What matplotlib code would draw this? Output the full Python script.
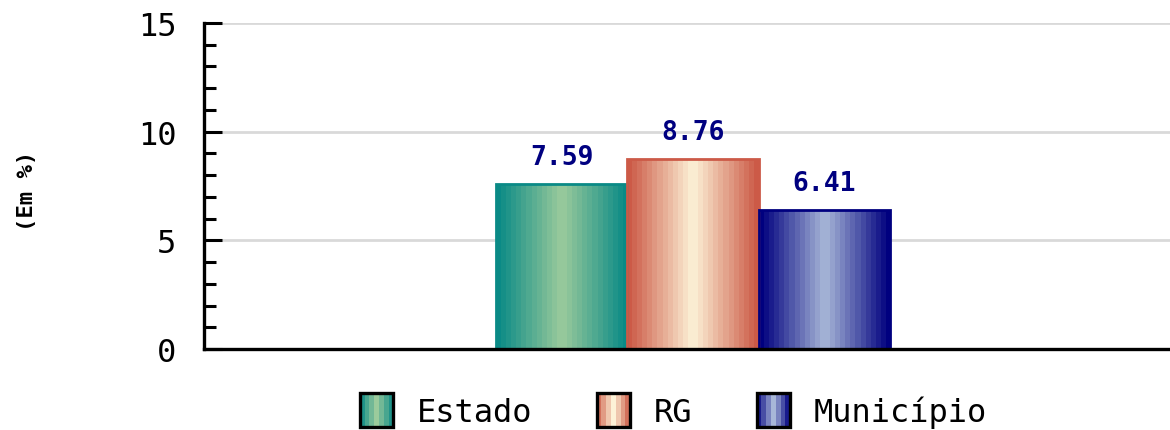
import numpy as np
import matplotlib
matplotlib.use('Agg')
import matplotlib.pyplot as plt
from matplotlib.colors import LinearSegmentedColormap
from matplotlib.patches import Rectangle
from matplotlib.legend_handler import HandlerBase

# data
categories = ['Estado', 'RG', 'Município']
values = [7.59, 8.76, 6.41]
y_label = '(Em %)'
y_ticks = [0, 5, 10, 15]

# style: (edge colour, light centre colour) per series
gradients = [('#0a8a86', '#9ccb9c'), ('#cc5a47', '#fdf3d8'), ('#00007f', '#a9b8d8')]

plt.rcParams['font.family'] = ['DejaVu Sans Mono', 'DejaVu Sans']


def make_cmap(edge, light):
    return LinearSegmentedColormap.from_list('g', [edge, light, edge])


class GradientHandler(HandlerBase):
    """legend key: black framed square filled with vertical colour bands"""

    def __init__(self, cmap, n=7):
        super().__init__()
        self.cmap, self.n = cmap, n

    def create_artists(self, legend, orig_handle, xdescent, ydescent,
                       width, height, fontsize, trans):
        size = height * 1.5
        x0, y0 = -xdescent + (width - size) / 2, -ydescent + (height - size) / 2
        artists = []
        for i in range(self.n):
            artists.append(Rectangle((x0 + i * size / self.n, y0), size / self.n, size,
                                     facecolor=self.cmap((i + 0.5) / self.n),
                                     edgecolor='none', transform=trans))
        artists.append(Rectangle((x0, y0), size, size, facecolor='none',
                                 edgecolor='black', lw=2.4, transform=trans))
        return artists


fig = plt.figure(figsize=(11.7, 4.31), dpi=100)
ax = fig.add_axes([204 / 1170, 1 - 350 / 431, 1 - 204 / 1170, (350 - 24) / 431])

x = np.arange(len(categories))
bars = ax.bar(x, values, width=1.0, facecolor='none', zorder=3)

handles, handler_map = [], {}
for rect, (edge, light), val in zip(bars, gradients, values):
    cmap = make_cmap(edge, light)
    bx, bw, bh = rect.get_x(), rect.get_width(), rect.get_height()
    im = ax.imshow(np.linspace(0, 1, 26).reshape(1, -1), cmap=cmap, aspect='auto',
                   interpolation='nearest', extent=(bx, bx + bw, 0, bh), zorder=2)
    im.set_clip_path(rect)
    rect.set_edgecolor(edge)
    rect.set_linewidth(2.0)
    ax.annotate(f'{val:.2f}', (bx + bw / 2, bh), xytext=(0, 10), textcoords='offset points',
                ha='center', va='bottom', color='#000080', fontsize=19, fontweight='bold')
    h = Rectangle((0, 0), 1, 1)
    handles.append(h)
    handler_map[h] = GradientHandler(cmap)

ax.set_xlim(-2.723, 4.632)
ax.set_ylim(0, 15)
ax.set_yticks(y_ticks)
ax.set_yticks(np.arange(0, 16, 1), minor=True)
ax.set_xticks([])
ax.tick_params(axis='y', which='major', direction='in', length=13, width=2.2,
               labelsize=23, pad=20)
ax.tick_params(axis='y', which='minor', direction='in', length=8.5, width=2.2)
ax.yaxis.grid(True, which='major', color='#d9d9d9', lw=2, zorder=0)
ax.set_axisbelow(True)
for side in ('top', 'right'):
    ax.spines[side].set_visible(False)
for side in ('left', 'bottom'):
    ax.spines[side].set_linewidth(2.4)
ax.spines['bottom'].set_zorder(5)

fig.text(27 / 1170, 0.557, y_label, rotation=90, ha='center', va='center',
         fontsize=16, fontweight='bold')

fig.legend(handles, categories, handler_map=handler_map, loc='center',
           bbox_to_anchor=(0.575, 0.042), ncol=3, frameon=False, fontsize=23,
           handlelength=1.1, handletextpad=0.7, columnspacing=2.0)

fig.savefig('out.png', dpi=100)
